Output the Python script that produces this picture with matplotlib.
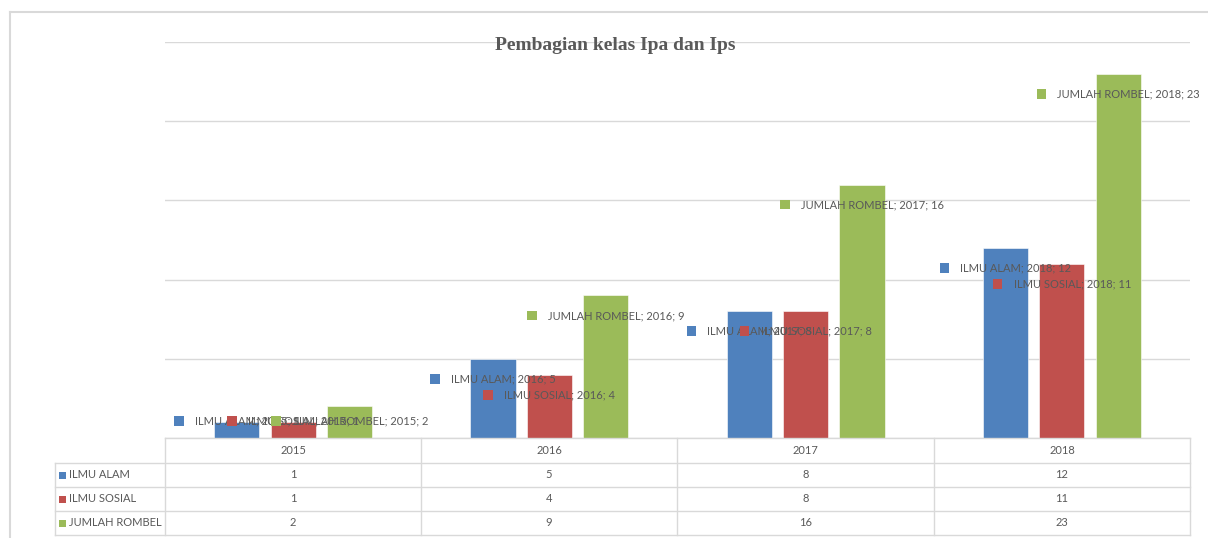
import matplotlib
matplotlib.use("Agg")
import matplotlib.pyplot as plt
from matplotlib.patches import Rectangle
from matplotlib.lines import Line2D
from matplotlib.offsetbox import AnnotationBbox, HPacker, TextArea, DrawingArea

# ---- data ----
years = ["2015", "2016", "2017", "2018"]
series_names = ["ILMU ALAM", "ILMU SOSIAL", "JUMLAH ROMBEL"]
ilmu_alam = [1, 5, 8, 12]
ilmu_sosial = [1, 4, 8, 11]
jumlah_rombel = [2, 9, 16, 23]
series_values = [ilmu_alam, ilmu_sosial, jumlah_rombel]
colors = ["#4F81BD", "#C0504D", "#9BBB59"]
title = "Pembagian kelas Ipa dan Ips"

W, H = 1208, 538
TXT = "#595959"
GRID = "#d9d9d9"
FONT = "Lato"

fig = plt.figure(figsize=(W / 100, H / 100), dpi=100)

def fx(px):
    return px / W

def fy(py):
    return 1 - py / H

# plot area
ax_l, ax_r, ax_t, ax_b = 165, 1190, 42, 438
ax = fig.add_axes([fx(ax_l), fy(ax_b), fx(ax_r - ax_l), (ax_b - ax_t) / H])
ax.set_xlim(-0.5, len(years) - 0.5)
ax.set_ylim(0, 25)
for s in ax.spines.values():
    s.set_visible(False)
ax.set_xticks([])
ax.set_yticks([0, 5, 10, 15, 20, 25])
ax.tick_params(axis="y", length=0, labelleft=False)
ax.yaxis.grid(True, color=GRID, linewidth=1)
ax.set_axisbelow(True)

offsets = [-0.22, 0.0, 0.22]
bw = 0.176
px_per_unit = (ax_b - ax_t) / 25.0
for si, (vals, col, off) in enumerate(zip(series_values, colors, offsets)):
    xs = [i + off for i in range(len(years))]
    ax.bar(xs, vals, width=bw, color=col, edgecolor="white", linewidth=0.4, zorder=2)
    for i, v in enumerate(vals):
        lab_y = max(v - 20 / px_per_unit, 17 / px_per_unit)
        da = DrawingArea(7, 7, 0, 0)
        da.add_artist(Rectangle((0, 0), 7, 7, facecolor=col, edgecolor="none"))
        ta = TextArea(f"{series_names[si]}; {years[i]}; {v}",
                      textprops=dict(color=TXT, fontsize=8, family=FONT))
        box = HPacker(children=[da, ta], align="center", pad=0, sep=8)
        ab = AnnotationBbox(box, (i + off, lab_y), frameon=False,
                            box_alignment=(0.5, 0.5), pad=0, zorder=4,
                            annotation_clip=False)
        ax.add_artist(ab)

# title
fig.text(fx(615), fy(45), title, ha="center", va="center",
         family="Liberation Serif", fontweight="bold", fontsize=14, color=TXT,
         zorder=5)

# outer chart frame
fig.add_artist(Line2D([fx(10), fx(W + 5)], [fy(12), fy(12)], color=GRID, lw=1.5,
                      transform=fig.transFigure))
fig.add_artist(Line2D([fx(10), fx(10)], [fy(12), fy(H + 5)], color=GRID, lw=1.5,
                      transform=fig.transFigure))

# data table
row_lines = [438, 463, 487, 511, 535]
col_lines = [165, 421, 677, 934, 1190]
tab_left = 55

def hline(y, x0, x1):
    fig.add_artist(Line2D([fx(x0), fx(x1)], [fy(y), fy(y)], color=GRID, lw=1,
                          transform=fig.transFigure))

def vline(x, y0, y1):
    fig.add_artist(Line2D([fx(x), fx(x)], [fy(y0), fy(y1)], color=GRID, lw=1,
                          transform=fig.transFigure))

hline(row_lines[0], col_lines[0], col_lines[-1])
for y in row_lines[1:]:
    hline(y, tab_left, col_lines[-1])
for x in col_lines:
    vline(x, row_lines[0], row_lines[-1])
vline(tab_left, row_lines[1], row_lines[-1])

# header row
for i, yr in enumerate(years):
    cx = (col_lines[i] + col_lines[i + 1]) / 2
    cy = (row_lines[0] + row_lines[1]) / 2
    fig.text(fx(cx), fy(cy), yr, ha="center", va="center", fontsize=8,
             color=TXT, family=FONT)

# series rows
for r, (name, vals, col) in enumerate(zip(series_names, series_values, colors)):
    cy = (row_lines[r + 1] + row_lines[r + 2]) / 2
    fig.add_artist(Rectangle((fx(59), fy(cy + 3.5)), fx(7), 7 / H, facecolor=col,
                             edgecolor="none", transform=fig.transFigure))
    fig.text(fx(69), fy(cy), name, ha="left", va="center", fontsize=8,
             color=TXT, family=FONT)
    for i, v in enumerate(vals):
        cx = (col_lines[i] + col_lines[i + 1]) / 2
        fig.text(fx(cx), fy(cy), str(v), ha="center", va="center", fontsize=8,
                 color=TXT, family=FONT)

fig.savefig("out.png", dpi=100)
